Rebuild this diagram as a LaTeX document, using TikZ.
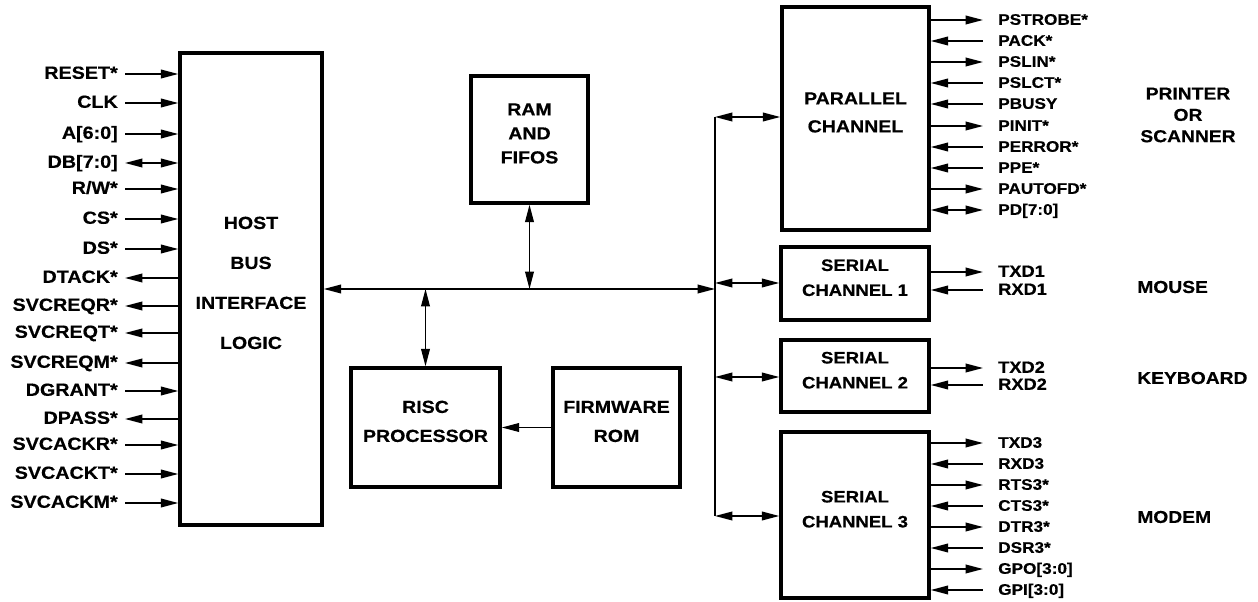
\documentclass[tikz,border=0pt]{standalone}
\usepackage{fontspec}
\setmainfont{Liberation Sans}[FakeStretch=1.12, BoldFeatures={FakeBold=0.5}]
\usepackage{tikz}
\usetikzlibrary{arrows.meta, fit}

\tikzset{
  blk/.style={draw, line width=2.6pt, inner sep=0pt, align=center},
  lsig/.style={anchor=east, inner xsep=5.25pt, inner ysep=0pt, text height=0.72em, text depth=0pt, font=\bfseries\fontsize{13.2}{14}\selectfont},
  rsig/.style={anchor=west, inner xsep=11.25pt, inner ysep=0pt, text height=0.72em, text depth=0pt, font=\bfseries\fontsize{11.5}{12}\selectfont},
  ssig/.style={rsig, font=\bfseries\fontsize{12.2}{12}\selectfont},
  dev/.style={inner sep=0pt, align=center, font=\bfseries\fontsize{12.9}{16}\selectfont},
  wire/.style={line width=1.1pt},
  >={Triangle[length=13pt,width=6.5pt]}
}

\begin{document}
\begin{tikzpicture}[x=0.75pt,y=0.75pt,yscale=-1,xscale=1]
\useasboundingbox (0,0) rectangle (1258,602);

%Shape: Rectangle [host]
\node[blk, fit={(180,53) (322,525)}, font=\bfseries\fontsize{13.1}{30}\selectfont] (host) {HOST\\BUS\\INTERFACE\\LOGIC};
%Shape: Rectangle [ram]
\node[blk, fit={(471,76) (588,203)}, font=\bfseries\fontsize{13.1}{18}\selectfont] (ram) {RAM\\AND\\FIFOS};
%Shape: Rectangle [risc]
\node[blk, fit={(351,368) (500,487)}, font=\bfseries\fontsize{13.1}{21.75}\selectfont] (risc) {RISC\\PROCESSOR};
%Shape: Rectangle [rom]
\node[blk, fit={(553,368) (680,487)}, font=\bfseries\fontsize{13.1}{21.75}\selectfont] (rom) {FIRMWARE\\ROM};
%Shape: Rectangle [par]
\node[blk, fit={(782,7) (929,230)}, font=\bfseries\fontsize{13.1}{21}\selectfont] (par) {PARALLEL\\CHANNEL};
%Shape: Rectangle [ser1]
\node[blk, fit={(781,247) (929,320)}, font=\bfseries\fontsize{12.4}{18.75}\selectfont] (ser1) {SERIAL\\CHANNEL 1};
%Shape: Rectangle [ser2]
\node[blk, fit={(781,340) (929,412)}, font=\bfseries\fontsize{12.4}{18.75}\selectfont] (ser2) {SERIAL\\CHANNEL 2};
%Shape: Rectangle [ser3]
\node[blk, fit={(781,432) (929,598)}, font=\bfseries\fontsize{12.4}{18.75}\selectfont] (ser3) {SERIAL\\CHANNEL 3};

% Internal bus
\coordinate (busend) at (715,289);
\coordinate (railtop) at (715,117);
\coordinate (rail1) at (715,283);
\coordinate (rail2) at (715,377);
\coordinate (railbot) at (715,516);
%Straight Lines
\draw[wire,<->] (host.east |- busend) -- (busend);
\draw[wire,<->] (ram.south) -- (ram.south |- busend);
\draw[wire,<->] (risc.north |- busend) -- (risc.north);
\draw[wire,->] (rom.west) -- (risc.east);
\draw[wire] (railtop) -- (railbot);
\draw[wire,<->] (railtop) -- (par.west |- railtop);
\draw[wire,<->] (rail1) -- (ser1.west |- rail1);
\draw[wire,<->] (rail2) -- (ser2.west |- rail2);
\draw[wire,<->] (railbot) -- (ser3.west |- railbot);

% Text Node
\node[lsig] (reset) at (125,74) {RESET*};
\node[lsig] (clk) at (125,103) {CLK};
\node[lsig] (addr) at (125,134) {A[6:0]};
\node[lsig] (db) at (125,163) {DB[7:0]};
\node[lsig] (rw) at (125,189) {R/W*};
\node[lsig] (cs) at (125,219) {CS*};
\node[lsig] (ds) at (125,249) {DS*};
\node[lsig] (dtack) at (125,278) {DTACK*};
\node[lsig] (reqr) at (125,306) {SVCREQR*};
\node[lsig] (reqt) at (125,333) {SVCREQT*};
\node[lsig] (reqm) at (125,363) {SVCREQM*};
\node[lsig] (dgrant) at (125,391) {DGRANT*};
\node[lsig] (dpass) at (125,419) {DPASS*};
\node[lsig] (ackr) at (125,445) {SVCACKR*};
\node[lsig] (ackt) at (125,474) {SVCACKT*};
\node[lsig] (ackm) at (125,503) {SVCACKM*};

%Straight Lines
\draw[wire,->] (reset) -- (host.west |- reset);
\draw[wire,->] (clk) -- (host.west |- clk);
\draw[wire,->] (addr) -- (host.west |- addr);
\draw[wire,<->] (db) -- (host.west |- db);
\draw[wire,->] (rw) -- (host.west |- rw);
\draw[wire,->] (cs) -- (host.west |- cs);
\draw[wire,->] (ds) -- (host.west |- ds);
\draw[wire,<-] (dtack) -- (host.west |- dtack);
\draw[wire,<-] (reqr) -- (host.west |- reqr);
\draw[wire,<-] (reqt) -- (host.west |- reqt);
\draw[wire,<-] (reqm) -- (host.west |- reqm);
\draw[wire,->] (dgrant) -- (host.west |- dgrant);
\draw[wire,<-] (dpass) -- (host.west |- dpass);
\draw[wire,->] (ackr) -- (host.west |- ackr);
\draw[wire,->] (ackt) -- (host.west |- ackt);
\draw[wire,->] (ackm) -- (host.west |- ackm);

% Text Node
\node[rsig] (pstrobe) at (983,20) {PSTROBE*};
\node[rsig] (pack) at (983,41) {PACK*};
\node[rsig] (pslin) at (983,62) {PSLIN*};
\node[rsig] (pslct) at (983,83) {PSLCT*};
\node[rsig] (pbusy) at (983,104) {PBUSY};
\node[rsig] (pinit) at (983,126) {PINIT*};
\node[rsig] (perror) at (983,147) {PERROR*};
\node[rsig] (ppe) at (983,168) {PPE*};
\node[rsig] (pautofd) at (983,189) {PAUTOFD*};
\node[rsig] (pd) at (983,210) {PD[7:0]};

%Straight Lines
\draw[wire,->] (par.east |- pstrobe) -- (pstrobe);
\draw[wire,<-] (par.east |- pack) -- (pack);
\draw[wire,->] (par.east |- pslin) -- (pslin);
\draw[wire,<-] (par.east |- pslct) -- (pslct);
\draw[wire,<-] (par.east |- pbusy) -- (pbusy);
\draw[wire,->] (par.east |- pinit) -- (pinit);
\draw[wire,<-] (par.east |- perror) -- (perror);
\draw[wire,<-] (par.east |- ppe) -- (ppe);
\draw[wire,->] (par.east |- pautofd) -- (pautofd);
\draw[wire,<->] (par.east |- pd) -- (pd);

% Text Node
\node[ssig] (txd1) at (983,272) {TXD1};
\node[ssig] (rxd1) at (983,290) {RXD1};
\node[ssig] (txd2) at (983,368) {TXD2};
\node[ssig] (rxd2) at (983,385) {RXD2};

%Straight Lines
\draw[wire,->] (ser1.east |- txd1) -- (txd1);
\draw[wire,<-] (ser1.east |- rxd1) -- (rxd1);
\draw[wire,->] (ser2.east |- txd2) -- (txd2);
\draw[wire,<-] (ser2.east |- rxd2) -- (rxd2);

% Text Node
\node[rsig] (txd3) at (983,443) {TXD3};
\node[rsig] (rxd3) at (983,464) {RXD3};
\node[rsig] (rts3) at (983,485) {RTS3*};
\node[rsig] (cts3) at (983,506) {CTS3*};
\node[rsig] (dtr3) at (983,527) {DTR3*};
\node[rsig] (dsr3) at (983,548) {DSR3*};
\node[rsig] (gpo) at (983,569) {GPO[3:0]};
\node[rsig] (gpi) at (983,590) {GPI[3:0]};

%Straight Lines
\draw[wire,->] (ser3.east |- txd3) -- (txd3);
\draw[wire,<-] (ser3.east |- rxd3) -- (rxd3);
\draw[wire,->] (ser3.east |- rts3) -- (rts3);
\draw[wire,<-] (ser3.east |- cts3) -- (cts3);
\draw[wire,->] (ser3.east |- dtr3) -- (dtr3);
\draw[wire,<-] (ser3.east |- dsr3) -- (dsr3);
\draw[wire,->] (ser3.east |- gpo) -- (gpo);
\draw[wire,<-] (ser3.east |- gpi) -- (gpi);

% Text Node
\node[dev] (printer) at (1188,115) {PRINTER\\OR\\SCANNER};
\node[dev, anchor=west] (mouse) at (1137,287) {MOUSE};
\node[dev, anchor=west] (keyboard) at (1137,378) {KEYBOARD};
\node[dev, anchor=west] (modem) at (1137,517) {MODEM};

\end{tikzpicture}
\end{document}
